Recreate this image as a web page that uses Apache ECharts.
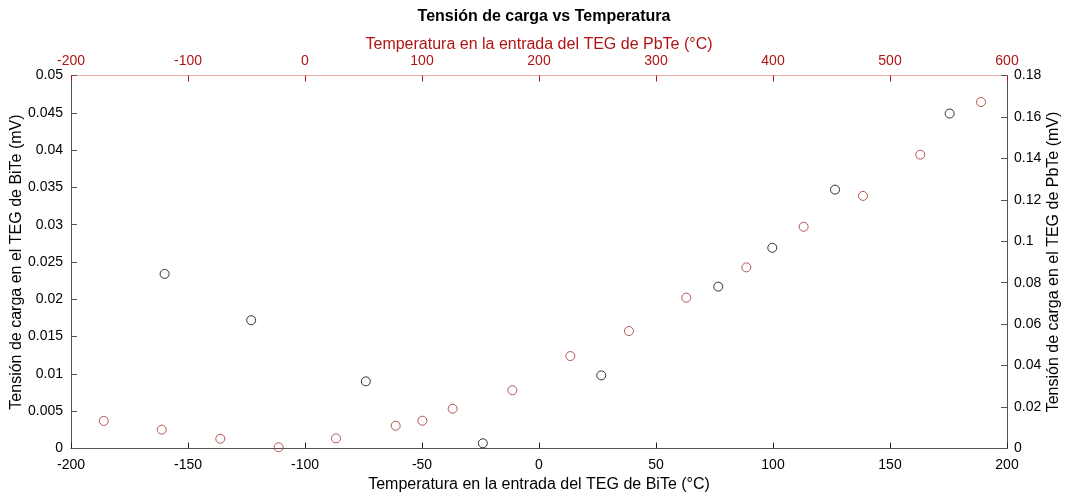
<!DOCTYPE html>
<html>
<head>
<meta charset="utf-8">
<title>Tensión de carga vs Temperatura</title>
<script src="https://cdn.jsdelivr.net/npm/echarts@6/dist/echarts.min.js"></script>
<style>
  html, body { margin: 0; padding: 0; background: #fff; }
  #main { width: 1070px; height: 498px; }
</style>
</head>
<body>
<div id="main"></div>
<script>
// TEG de BiTe (eje inferior / eje izquierdo)
var tempBiTe = [-160, -123, -74, -24, 26.6, 76.6, 99.7, 126.5, 175.5];
var tensionBiTe = [0.0234, 0.0172, 0.0090, 0.0007, 0.0098, 0.0217, 0.0269, 0.0347, 0.0449];

// TEG de PbTe (eje superior / eje derecho)
var tempPbTe = [-172, -122.5, -72.4, -22.5, 26.5, 77.5, 100.3, 126.2, 177.2, 226.8, 276.9, 325.9, 377.2, 426.2, 476.9, 525.9, 577.8];
var tensionPbTe = [0.0133, 0.0091, 0.0047, 0.0006, 0.0049, 0.0110, 0.0134, 0.0192, 0.0281, 0.0446, 0.0567, 0.0728, 0.0874, 0.1070, 0.1219, 0.1418, 0.1672];

var rojo = '#b01414';
var rojoPunto = '#a8302c';
var gris = '#555555';
var fuente = 'Liberation Sans, Arial, sans-serif';

function pares(xs, ys) {
    var res = [];
    for (var i = 0; i < xs.length; i++) {
        res.push([xs[i], ys[i]]);
    }
    return res;
}

// quita los errores de coma flotante en las etiquetas
function limpio(v) {
    return String(parseFloat(v.toFixed(4)));
}

var chart = echarts.init(document.getElementById('main'));

var option = {
    animation: false,
    title: {
        text: 'Tensión de carga vs Temperatura',
        left: 539,
        textAlign: 'center',
        top: 4,
        textStyle: { fontFamily: fuente, fontSize: 16, fontWeight: 'bold', color: '#000' }
    },
    grid: { left: 71, right: 63, top: 75.5, bottom: 49.5, outerBoundsMode: 'none', containLabel: false },
    xAxis: [{
        type: 'value',
        position: 'bottom',
        min: -200, max: 200, interval: 50,
        name: 'Temperatura en la entrada del TEG de BiTe (°C)',
        nameLocation: 'middle',
        nameGap: 28,
        nameMoveOverlap: false,
        nameTextStyle: { fontFamily: fuente, fontSize: 16, color: '#000' },
        axisLine: { onZero: false, lineStyle: { color: gris, width: 1 } },
        axisTick: { inside: true, length: 6, lineStyle: { color: '#222' } },
        axisLabel: { fontFamily: fuente, fontSize: 14, color: '#000', margin: 10 },
        splitLine: { show: false }
    }, {
        type: 'value',
        position: 'top',
        min: -200, max: 600, interval: 100,
        name: 'Temperatura en la entrada del TEG de PbTe (°C)',
        nameLocation: 'middle',
        nameGap: 23,
        nameMoveOverlap: false,
        nameTextStyle: { fontFamily: fuente, fontSize: 16, color: rojo },
        axisLine: { onZero: false, lineStyle: { color: '#eeaaaa', width: 1 } },
        axisTick: { inside: true, length: 6, lineStyle: { color: rojo } },
        axisLabel: { fontFamily: fuente, fontSize: 14, color: rojo, margin: 7 },
        splitLine: { show: false }
    }],
    yAxis: [{
        type: 'value',
        position: 'left',
        min: 0, max: 0.05, interval: 0.005,
        name: 'Tensión de carga en el TEG de BiTe (mV)',
        nameLocation: 'middle',
        nameGap: 46,
        nameMoveOverlap: false,
        nameTextStyle: { fontFamily: fuente, fontSize: 16, color: '#000' },
        axisLine: { show: true, onZero: false, lineStyle: { color: gris, width: 1 } },
        axisTick: { show: true, inside: true, length: 6, lineStyle: { color: gris } },
        axisLabel: { fontFamily: fuente, fontSize: 14, color: '#000', margin: 8, formatter: limpio },
        splitLine: { show: false }
    }, {
        type: 'value',
        position: 'right',
        min: 0, max: 0.18, interval: 0.02,
        name: 'Tensión de carga en el TEG de PbTe (mV)',
        nameLocation: 'middle',
        nameGap: 39,
        nameRotate: 90,
        nameMoveOverlap: false,
        nameTextStyle: { fontFamily: fuente, fontSize: 16, color: '#000' },
        axisLine: { show: true, onZero: false, lineStyle: { color: gris, width: 1 } },
        axisTick: { show: true, inside: true, length: 6, lineStyle: { color: gris } },
        axisLabel: { fontFamily: fuente, fontSize: 14, color: '#000', margin: 7, formatter: limpio },
        splitLine: { show: false }
    }],
    series: [{
        name: 'BiTe',
        type: 'scatter',
        xAxisIndex: 0,
        yAxisIndex: 0,
        data: pares(tempBiTe, tensionBiTe),
        symbol: 'circle',
        symbolSize: 9,
        itemStyle: { color: 'rgba(0,0,0,0)', borderColor: '#000', borderWidth: 1 }
    }, {
        name: 'PbTe',
        type: 'scatter',
        xAxisIndex: 1,
        yAxisIndex: 1,
        data: pares(tempPbTe, tensionPbTe),
        symbol: 'circle',
        symbolSize: 9,
        itemStyle: { color: 'rgba(0,0,0,0)', borderColor: rojoPunto, borderWidth: 1 }
    }]
};

chart.setOption(option);
window.onresize = chart.resize;
</script>
</body>
</html>
